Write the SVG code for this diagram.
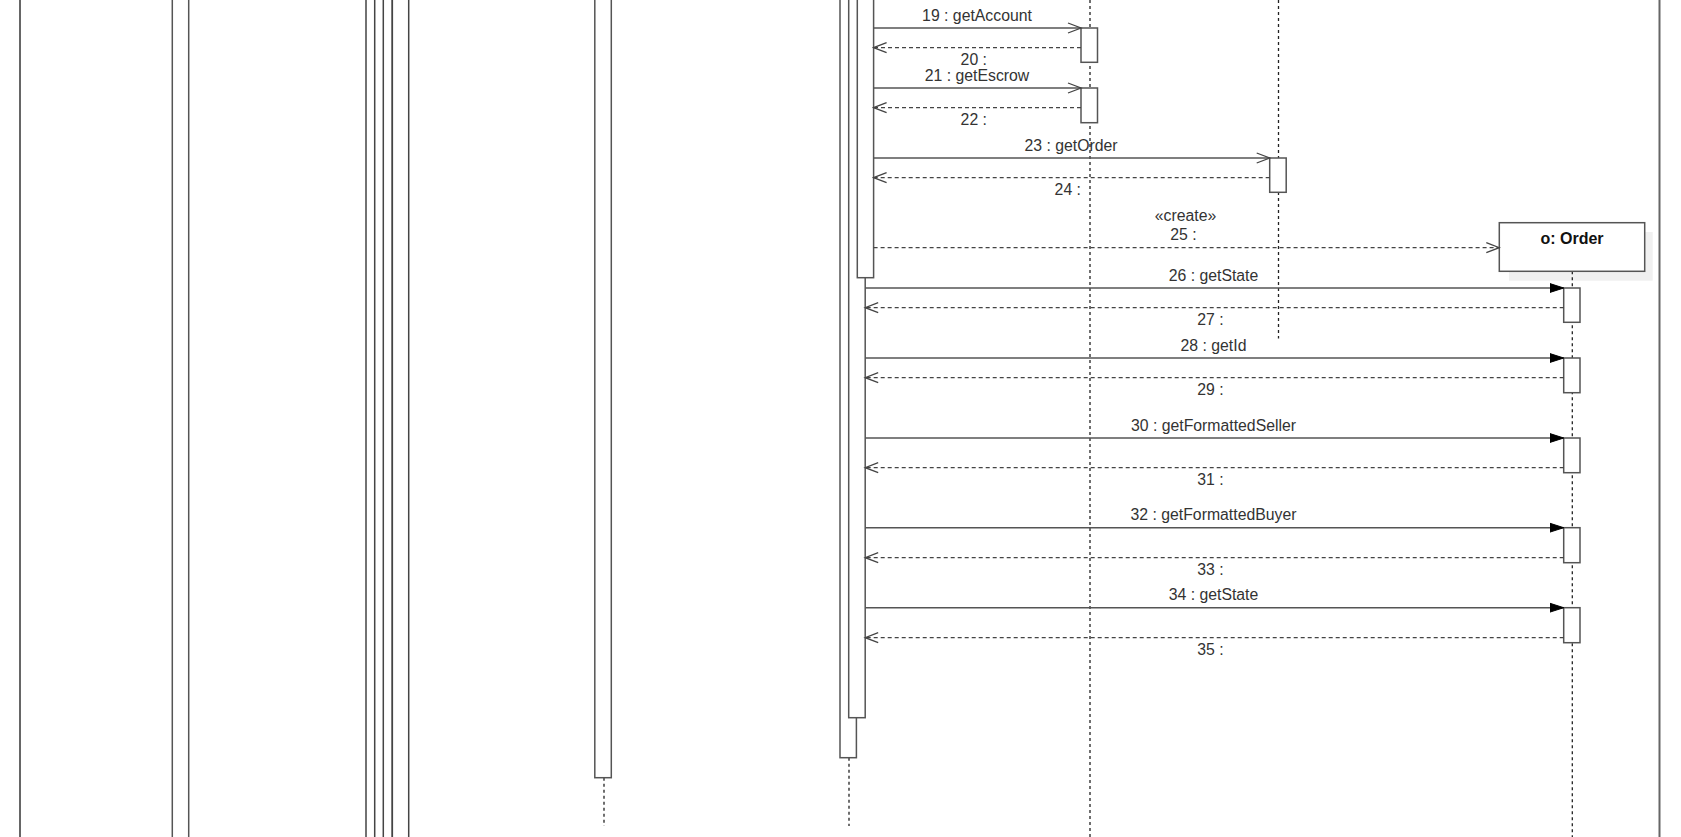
<svg xmlns="http://www.w3.org/2000/svg" width="1681" height="837" viewBox="0 0 1681 837">
<style>
.bg{fill:#ffffff}
.frame{fill:none;stroke:#666666;stroke-width:2}
.act{fill:#ffffff;stroke:#555555;stroke-width:1.5}
.actn{fill:none;stroke:#444444;stroke-width:1.5}
.life{fill:none;stroke:#222222;stroke-width:1.3;stroke-dasharray:3 3}
.call{fill:none;stroke:#555555;stroke-width:1.5}
.ret{fill:none;stroke:#444444;stroke-width:1.3;stroke-dasharray:4 3}
.lbl{font-family:"Liberation Sans",Arial,sans-serif;font-size:15.8px;fill:#333333;text-anchor:middle}
.title{font-family:"Liberation Sans",Arial,sans-serif;font-size:16px;font-weight:bold;fill:#111111;text-anchor:middle}
</style>
<defs>
<marker id="open" markerUnits="userSpaceOnUse" markerWidth="16" markerHeight="12" refX="14" refY="6" orient="auto">
<path d="M1,1 L14,6 L1,11" fill="none" stroke="#444444" stroke-width="1.3"/>
</marker>
<marker id="filled" markerUnits="userSpaceOnUse" markerWidth="16" markerHeight="12" refX="14" refY="6" orient="auto">
<path d="M0,1.5 L14,6 L0,10.5 Z" fill="#000000" stroke="#000000" stroke-width="1"/>
</marker>
</defs>
<rect class="bg" x="0" y="0" width="1681" height="837"/>

<g id="frame">
<line class="frame" x1="20" y1="-5" x2="20" y2="845"/>
<line class="frame" x1="1659.5" y1="-5" x2="1659.5" y2="845"/>
</g>

<g id="lifeline-a">
<rect class="act" x="172.3" y="-10" width="16.4" height="860"/>
</g>

<g id="lifeline-b">
<rect class="actn" x="366" y="-10" width="17.3" height="860"/>
<rect class="actn" x="374.7" y="-10" width="17.6" height="860"/>
<rect class="actn" x="392.3" y="-10" width="16.4" height="860"/>
</g>

<g id="lifeline-c">
<line class="life" x1="604" y1="777.7" x2="604" y2="826"/>
<rect class="act" x="594.8" y="-10" width="16.5" height="787.7"/>
</g>

<g id="lifeline-d">
<line class="life" x1="849" y1="757.7" x2="849" y2="826"/>
<rect class="act" x="840" y="-10" width="16.4" height="767.7"/>
<rect class="act" x="848.7" y="-10" width="16.5" height="727.7"/>
<rect class="act" x="857.3" y="-10" width="16.3" height="287.7"/>
</g>

<g id="lifeline-e">
<line class="life" x1="1090" y1="0" x2="1090" y2="837"/>
<rect class="act" x="1081" y="28" width="16.5" height="34.3"/>
<rect class="act" x="1081" y="88" width="16.5" height="34.7"/>
</g>

<g id="lifeline-f">
<line class="life" x1="1278.5" y1="0" x2="1278.5" y2="338.5"/>
<rect class="act" x="1269.7" y="158" width="16.5" height="34.3"/>
</g>

<g id="order">
<rect x="1509" y="232" width="143.7" height="48.7" fill="#f0f0f0"/>
<line class="life" x1="1572.3" y1="271.3" x2="1572.3" y2="837"/>
<rect class="act" x="1499.3" y="222.7" width="145.4" height="48.6"/>
<text class="title" x="1572" y="244">o: Order</text>
<rect class="act" x="1563.7" y="288" width="16.3" height="34.3"/>
<rect class="act" x="1563.7" y="358" width="16.3" height="34.7"/>
<rect class="act" x="1563.7" y="438" width="16.3" height="34.7"/>
<rect class="act" x="1563.7" y="527.7" width="16.3" height="35"/>
<rect class="act" x="1563.7" y="607.7" width="16.3" height="35"/>
</g>

<g id="connectors">
<line class="call" x1="873.6" y1="28" x2="1081" y2="28" marker-end="url(#open)"/>
<line class="ret" x1="1081" y1="47.7" x2="873.6" y2="47.7" marker-end="url(#open)"/>
<line class="call" x1="873.6" y1="88" x2="1081" y2="88" marker-end="url(#open)"/>
<line class="ret" x1="1081" y1="107.7" x2="873.6" y2="107.7" marker-end="url(#open)"/>
<line class="call" x1="873.6" y1="158" x2="1269.7" y2="158" marker-end="url(#open)"/>
<line class="ret" x1="1269.7" y1="177.7" x2="873.6" y2="177.7" marker-end="url(#open)"/>
<line class="ret" x1="873.6" y1="247.7" x2="1499.3" y2="247.7" marker-end="url(#open)"/>
<line class="call" x1="865.2" y1="288" x2="1563.7" y2="288" marker-end="url(#filled)"/>
<line class="ret" x1="1563.7" y1="307.7" x2="865.2" y2="307.7" marker-end="url(#open)"/>
<line class="call" x1="865.2" y1="358" x2="1563.7" y2="358" marker-end="url(#filled)"/>
<line class="ret" x1="1563.7" y1="377.7" x2="865.2" y2="377.7" marker-end="url(#open)"/>
<line class="call" x1="865.2" y1="438" x2="1563.7" y2="438" marker-end="url(#filled)"/>
<line class="ret" x1="1563.7" y1="467.7" x2="865.2" y2="467.7" marker-end="url(#open)"/>
<line class="call" x1="865.2" y1="527.7" x2="1563.7" y2="527.7" marker-end="url(#filled)"/>
<line class="ret" x1="1563.7" y1="557.7" x2="865.2" y2="557.7" marker-end="url(#open)"/>
<line class="call" x1="865.2" y1="607.7" x2="1563.7" y2="607.7" marker-end="url(#filled)"/>
<line class="ret" x1="1563.7" y1="637.7" x2="865.2" y2="637.7" marker-end="url(#open)"/>
</g>

<g id="labels">
<text class="lbl" x="977" y="20.5">19 : getAccount</text>
<text class="lbl" x="973.8" y="65.3">20 :</text>
<text class="lbl" x="977" y="80.5">21 : getEscrow</text>
<text class="lbl" x="973.8" y="125.3">22 :</text>
<text class="lbl" x="1071" y="150.5">23 : getOrder</text>
<text class="lbl" x="1067.8" y="195.3">24 :</text>
<text class="lbl" x="1185.5" y="220.5">«create»</text>
<text class="lbl" x="1183.5" y="240">25 :</text>
<text class="lbl" x="1213.5" y="280.5">26 : getState</text>
<text class="lbl" x="1210.5" y="325.3">27 :</text>
<text class="lbl" x="1213.5" y="350.5">28 : getId</text>
<text class="lbl" x="1210.5" y="395.3">29 :</text>
<text class="lbl" x="1213.5" y="430.5">30 : getFormattedSeller</text>
<text class="lbl" x="1210.5" y="485.3">31 :</text>
<text class="lbl" x="1213.5" y="520.2">32 : getFormattedBuyer</text>
<text class="lbl" x="1210.5" y="575.3">33 :</text>
<text class="lbl" x="1213.5" y="600.2">34 : getState</text>
<text class="lbl" x="1210.5" y="655.3">35 :</text>
</g>
</svg>
